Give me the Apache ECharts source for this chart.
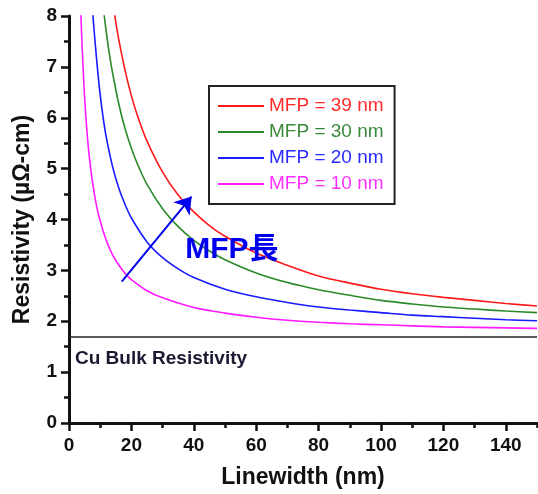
<!DOCTYPE html>
<html>
<head>
<meta charset="utf-8">
<script src="https://cdn.jsdelivr.net/npm/echarts@6/dist/echarts.min.js"></script>
<style>
  html, body { margin: 0; padding: 0; background: #fff; }
  #chart { width: 538px; height: 494px; }
</style>
</head>
<body>
<div id="chart"></div>
<script>
// 线宽 (nm) 与电阻率 (µΩ-cm)
const w39 = [14, 15, 16, 18, 20, 22, 25, 30, 35, 40, 45, 50, 60, 70, 80, 90, 100, 110, 120, 130, 140, 150]
const r39 = [8.29, 7.88, 7.52, 6.92, 6.43, 6.03, 5.54, 4.93, 4.48, 4.15, 3.88, 3.67, 3.34, 3.10, 2.89, 2.75, 2.63, 2.54, 2.47, 2.41, 2.35, 2.30]

const w30 = [11, 12, 13, 14, 16, 18, 20, 22, 25, 30, 35, 40, 45, 50, 60, 70, 80, 90, 100, 110, 120, 130, 140, 150]
const r30 = [8.16, 7.66, 7.23, 6.87, 6.26, 5.78, 5.40, 5.08, 4.69, 4.21, 3.86, 3.59, 3.38, 3.21, 2.95, 2.76, 2.62, 2.51, 2.41, 2.34, 2.28, 2.24, 2.20, 2.17]

const w20 = [7.5, 8, 9, 10, 11, 12, 14, 16, 18, 20, 25, 30, 35, 40, 50, 60, 70, 80, 90, 100, 110, 120, 130, 140, 150]
const r20 = [8.15, 7.75, 7.05, 6.45, 5.98, 5.60, 5.03, 4.61, 4.29, 4.03, 3.56, 3.25, 3.03, 2.86, 2.63, 2.48, 2.37, 2.28, 2.22, 2.17, 2.12, 2.09, 2.06, 2.03, 2.01]

const w10 = [3.5, 4, 4.5, 5, 6, 7, 8, 9, 10, 12, 14, 16, 18, 20, 25, 30, 40, 50, 60, 70, 80, 90, 100, 110, 120, 130, 140, 150]
const r10 = [8.6, 7.7, 7.0, 6.4, 5.55, 4.98, 4.55, 4.22, 3.97, 3.58, 3.30, 3.10, 2.94, 2.82, 2.60, 2.46, 2.27, 2.16, 2.08, 2.02, 1.98, 1.95, 1.93, 1.91, 1.89, 1.88, 1.87, 1.86]

const bulkValue = 1.7
const xMajorTicks = [0, 20, 40, 60, 80, 100, 120, 140]
const xMinorTicks = [10, 30, 50, 70, 90, 110, 130, 150]
// 箭头起止点 (数据坐标)
const arrowFrom = [16.9, 2.78]
const arrowTo = [39.3, 4.45]
const arrowText = [52.2, 3.40]

const names = ['MFP = 39 nm', 'MFP = 30 nm', 'MFP = 20 nm', 'MFP = 10 nm']
const colors = ['#ff1a1a', '#2a8a2a', '#1a1aff', '#ff1aff']
const textColors = ['#ff2a2a', '#3a8a3a', '#2a2aff', '#ff30ff']

const font = "'Liberation Sans', Arial, sans-serif"
const axisColor = '#111'

function pairs (xs, ys) {
  return xs.map((x, i) => [x, ys[i]])
}

const chart = echarts.init(document.getElementById('chart'))

const curves = [[w39, r39], [w30, r30], [w20, r20], [w10, r10]]
const series = curves.map((c, i) => ({
  name: names[i],
  type: 'line',
  data: pairs(c[0], c[1]),
  smooth: 0.3,
  symbol: 'none',
  lineStyle: { color: colors[i], width: 1.6 },
  itemStyle: { color: colors[i] }
}))

// Cu 体电阻率线、箭头和文字
series[3].markLine = {
  silent: true,
  animation: false,
  data: [
    [
      { coord: [0, bulkValue], symbol: 'none' },
      {
        coord: [150, bulkValue],
        symbol: 'none',
        lineStyle: { color: '#222', width: 1.6, type: 'solid' },
        label: {
          show: true,
          position: 'insideStartBottom',
          formatter: 'Cu Bulk Resistivity',
          color: '#1a1a33',
          fontFamily: font,
          fontWeight: 'bold',
          fontSize: 19,
          distance: [6, 13]
        }
      }
    ],
    [
      { coord: arrowFrom, symbol: 'none' },
      {
        coord: arrowTo,
        symbol: 'arrow',
        symbolSize: 16,
        lineStyle: { color: '#0000ee', width: 2, type: 'solid' },
        label: { show: false }
      }
    ]
  ]
}
series[3].markPoint = {
  silent: true,
  animation: false,
  data: [{
    coord: arrowText,
    symbol: 'rect',
    symbolSize: 1,
    itemStyle: { color: 'rgba(0,0,0,0)' },
    label: {
      show: true,
      position: 'inside',
      formatter: 'MFP長',
      color: '#0000ee',
      fontFamily: "'Liberation Sans', 'Noto Sans CJK JP', sans-serif",
      fontWeight: 'bold',
      fontSize: 30
    }
  }]
}

const option = {
  animation: false,
  grid: { left: 69, right: 1, top: 16, bottom: 70 },
  legend: {
    orient: 'vertical',
    left: 209,
    top: 86,
    padding: [10, 11, 10, 8],
    borderColor: '#222',
    borderWidth: 2,
    itemWidth: 46,
    itemHeight: 20,
    itemGap: 6,
    itemStyle: { opacity: 0 },
    textStyle: { fontFamily: font, fontSize: 19, lineHeight: 20 },
    data: names.map((n, i) => ({ name: n, textStyle: { color: textColors[i] } }))
  },
  xAxis: [
    {
      type: 'value',
      min: 0,
      max: 150,
      interval: 10,
      name: 'Linewidth (nm)',
      nameLocation: 'middle',
      nameGap: 43,
      nameTextStyle: { color: axisColor, fontFamily: font, fontWeight: 'bold', fontSize: 23 },
      axisLine: { lineStyle: { color: axisColor, width: 3 } },
      axisTick: { customValues: xMajorTicks, length: 8, lineStyle: { color: axisColor, width: 2.5 } },
      axisLabel: { customValues: xMajorTicks, color: axisColor, fontFamily: font, fontWeight: 'bold', fontSize: 19, margin: 13 },
      splitLine: { show: false }
    },
    {
      type: 'value',
      min: 0,
      max: 150,
      interval: 10,
      position: 'bottom',
      axisLine: { show: false },
      axisTick: { customValues: xMinorTicks, length: 5, lineStyle: { color: axisColor, width: 2.5 } },
      axisLabel: { show: false },
      splitLine: { show: false }
    }
  ],
  yAxis: {
    type: 'value',
    min: 0,
    max: 8,
    interval: 1,
    name: 'Resistivity (µΩ-cm)',
    nameLocation: 'middle',
    nameGap: 35,
    nameTextStyle: { color: axisColor, fontFamily: font, fontWeight: 'bold', fontSize: 23 },
    axisLine: { show: true, lineStyle: { color: axisColor, width: 3 } },
    axisTick: { show: true, length: 8, lineStyle: { color: axisColor, width: 2.5 } },
    minorTick: { show: true, splitNumber: 2, length: 5, lineStyle: { color: axisColor, width: 2.5 } },
    axisLabel: { color: axisColor, fontFamily: font, fontWeight: 'bold', fontSize: 19, margin: 12 },
    splitLine: { show: false }
  },
  series: series
}

chart.setOption(option)
</script>
</body>
</html>
